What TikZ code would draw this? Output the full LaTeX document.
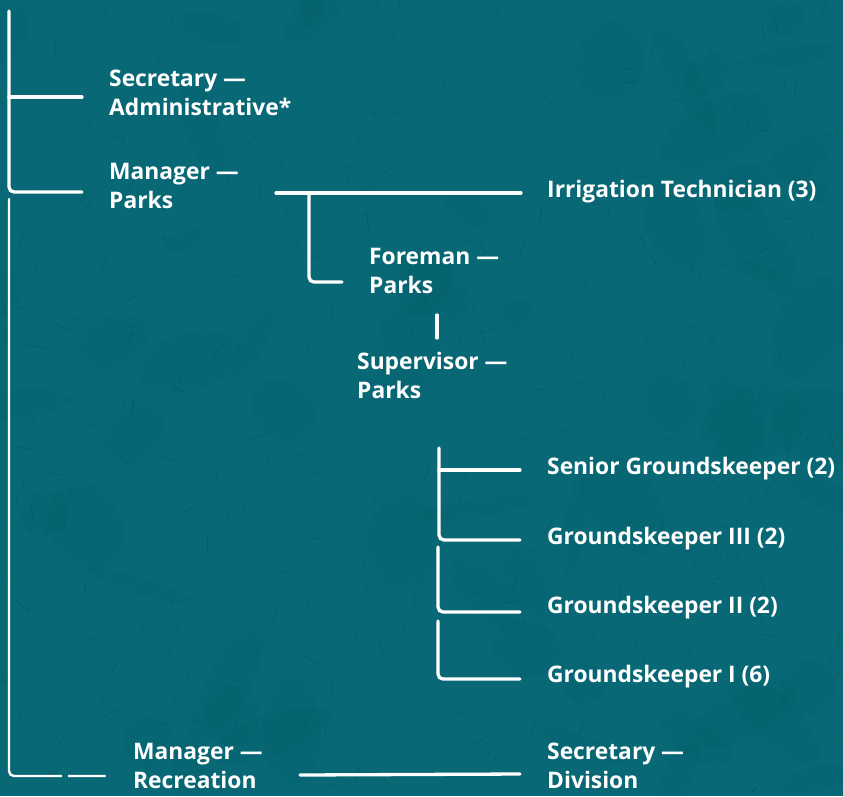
\documentclass[tikz,border=0pt]{standalone}
\usepackage{fontspec}
\setmainfont{Open Sans}
\definecolor{teal}{RGB}{8,104,117}
\definecolor{grime}{RGB}{0,45,55}
\begin{document}
\begin{tikzpicture}[x=1pt,y=-1pt,
  lbl/.style={anchor=base west, align=left, inner sep=0pt, text=white,
    font=\bfseries\fontsize{22.8}{28.5}\selectfont},
  wline/.style={draw=white, line width=3.3pt, rounded corners=5pt, line cap=round},
  grain/.style={draw=grime, line width=1.2pt, line cap=round}]
% background and its worn texture
\fill[teal] (0,0) rectangle (843,796);
\useasboundingbox (0,0) rectangle (843,796);
\pgfmathsetseed{4711}
\foreach \i in {1,...,60}{
  \pgfmathsetmacro{\xa}{rnd*843}
  \pgfmathsetmacro{\ya}{rnd*796}
  \pgfmathsetmacro{\ra}{15+rnd*50}
  \pgfmathsetmacro{\rb}{8+rnd*30}
  \pgfmathsetmacro{\rot}{rnd*180}
  \fill[grime, opacity=0.025, rotate around={\rot:(\xa,\ya)}] (\xa,\ya) ellipse [x radius=\ra pt, y radius=\rb pt];
}
\foreach \i in {1,...,600}{
  \pgfmathsetmacro{\xa}{rnd*843}
  \pgfmathsetmacro{\ya}{rnd*796}
  \pgfmathsetmacro{\len}{3+rnd*16}
  \pgfmathsetmacro{\ang}{rnd*360}
  \pgfmathsetmacro{\op}{0.03+rnd*0.11}
  \draw[grain, opacity=\op] (\xa,\ya) -- ++(\ang:\len pt);
}

% job titles (anchored at the baseline of their last line)
\node[lbl] (secadm) at (109,115) {Secretary —\\Administrative*};
\node[lbl] (mgrparks) at (109,208) {Manager —\\Parks};
\node[lbl] (irrig) at (547,197) {Irrigation Technician (3)};
\node[lbl] (foreman) at (369,293) {Foreman —\\Parks};
\node[lbl] (super) at (357,398) {Supervisor —\\Parks};
\node[lbl] (sgk) at (547,474) {Senior Groundskeeper (2)};
\node[lbl] (gk3) at (547,544) {Groundskeeper III (2)};
\node[lbl] (gk2) at (547,613) {Groundskeeper II (2)};
\node[lbl] (gk1) at (547,682) {Groundskeeper I (6)};
\node[lbl] (mgrrec) at (133,788) {Manager —\\Recreation};
\node[lbl] (secdiv) at (547,788) {Secretary —\\Division};

% connector anchor points
\coordinate (top) at (9,11);
\coordinate (tosec) at (82,97);
\coordinate (tomgr) at (82,192);
\coordinate (spine) at (9,199);
\coordinate (torec) at (105,776);
\coordinate (parksL) at (276,193);
\coordinate (toirrig) at (521,193);
\coordinate (fmdrop) at (309,193);
\coordinate (tofm) at (342,282);
\coordinate (supA) at (437,315);
\coordinate (supB) at (437,338);
\coordinate (gkA) at (439,448);
\coordinate (tosgk) at (520,470);
\coordinate (togk3) at (520,540);
\coordinate (gkB) at (438,547);
\coordinate (togk2) at (520,612);
\coordinate (gkC) at (438,621);
\coordinate (togk1) at (520,679);
\coordinate (recL) at (300,775);
\coordinate (todiv) at (520,774);

% brackets
\draw[wline] (top) |- (tomgr);
\draw[wline] (top |- tosec) -- (tosec);
\draw[wline, line width=2.4pt] (spine) |- (torec);
\draw[teal, line width=4pt] (62,776) -- (68,776);
\draw[wline] (parksL) -- (toirrig);
\draw[wline] (fmdrop) |- (tofm);
\draw[wline] (supA) -- (supB);
\draw[wline] (gkA) |- (togk3);
\draw[wline] (gkA |- tosgk) -- (tosgk);
\draw[wline] (gkB) |- (togk2);
\draw[wline] (gkC) |- (togk1);
\draw[wline] (recL) -- (todiv);
\end{tikzpicture}
\end{document}
